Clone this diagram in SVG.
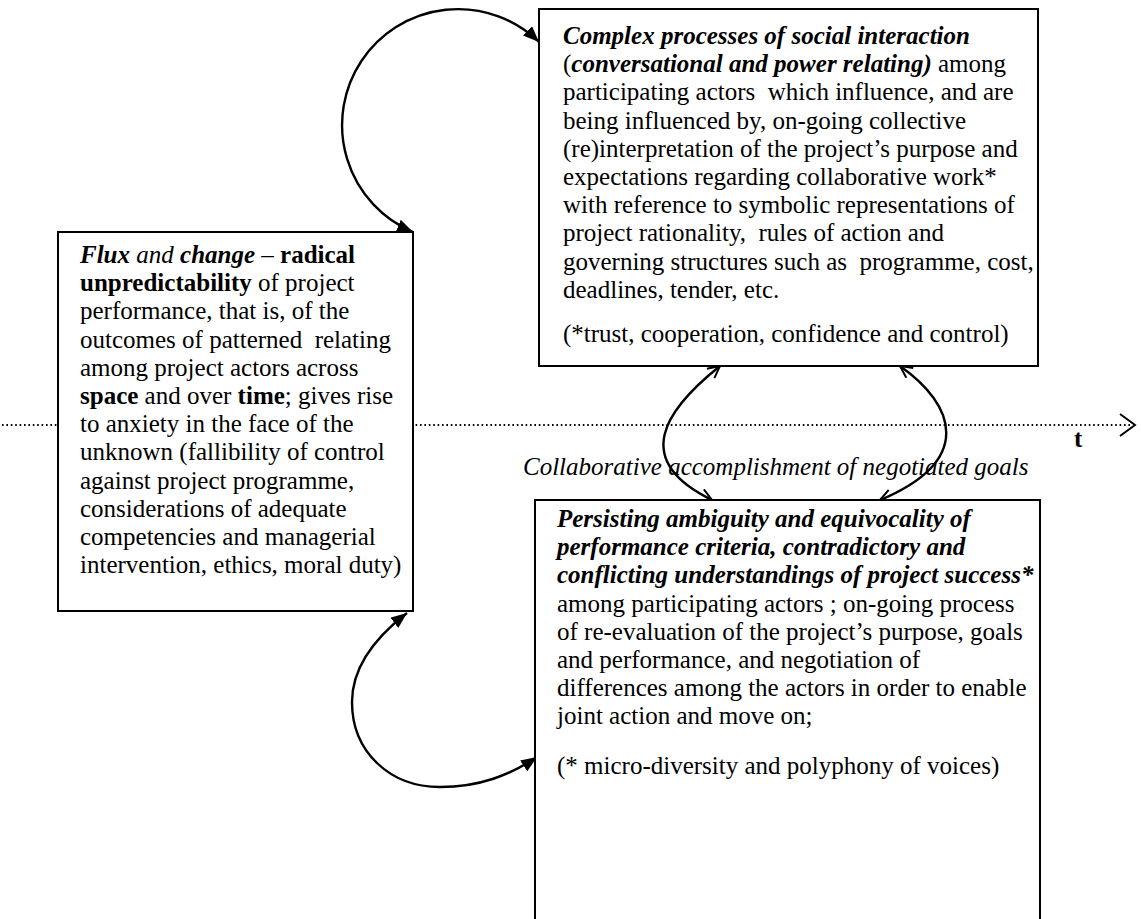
<svg xmlns="http://www.w3.org/2000/svg" width="1141" height="919" viewBox="0 0 1141 919">
  <defs>
    <style>
      text { font-family: "Liberation Serif", "Times New Roman", serif; font-size: 25px; fill: #000; white-space: pre; }
      .box { fill: #fff; stroke: #000; stroke-width: 2; }
      .bi { font-weight: bold; font-style: italic; }
      .b { font-weight: bold; }
      .i { font-style: italic; }
      .arc { fill: none; stroke: #000; stroke-width: 2.4; }
      .dot { fill: none; stroke: #000; stroke-width: 1.8; stroke-dasharray: 1.6 2.8; }
    </style>
    <marker id="solid" viewBox="0 0 16 13" refX="16" refY="6.5" markerWidth="16" markerHeight="13" markerUnits="userSpaceOnUse" orient="auto-start-reverse">
      <path d="M0,0 L16,6.5 L0,13 Z" fill="#000"/>
    </marker>
    <marker id="open" viewBox="0 0 14 14" refX="13" refY="7" markerWidth="14" markerHeight="14" markerUnits="userSpaceOnUse" orient="auto-start-reverse">
      <path d="M1,1 L13,7 L1,13" fill="none" stroke="#000" stroke-width="2"/>
    </marker>
  </defs>

  <rect width="1141" height="919" fill="#fff"/>

  <!-- time axis -->
  <g id="time-axis">
    <path class="dot" d="M2 425 H1132"/>
    <path d="M1120 414 L1135 425 L1120 436" fill="none" stroke="#000" stroke-width="2"/>
    <text x="1074" y="447" class="b">t</text>
    <text x="523" y="475" class="i">Collaborative accomplishment of negotiated goals</text>
  </g>

  <!-- connectors -->
  <g id="connectors">
    <path class="arc" d="M539 42 A116 116 0 1 0 413 232" marker-start="url(#solid)" marker-end="url(#solid)"/>
    <path class="arc" d="M407 613 C372 640 352 670 352 702 C352 752 390 787 440 787 C480 787 510 775 537 757" marker-start="url(#solid)" marker-end="url(#solid)"/>
    <path class="arc" d="M720 366 C665 410 630 460 712 500" marker-start="url(#open)" marker-end="url(#open)"/>
    <path class="arc" d="M900 366 C955 405 975 460 880 500" marker-start="url(#open)" marker-end="url(#open)"/>
  </g>

  <!-- social interaction -->
  <g id="node-interaction">
    <rect class="box" x="539" y="9" width="499" height="357"/>
    <text x="563" y="44" class="bi">Complex processes of social interaction</text>
    <text x="563" y="72.2">(<tspan class="bi">conversational and power relating)</tspan> among</text>
    <text x="563" y="100.4">participating actors  which influence, and are</text>
    <text x="563" y="128.6">being influenced by, on-going collective</text>
    <text x="563" y="156.8">(re)interpretation of the project’s purpose and</text>
    <text x="563" y="185">expectations regarding collaborative work*</text>
    <text x="563" y="213.2">with reference to symbolic representations of</text>
    <text x="563" y="241.4">project rationality,  rules of action and</text>
    <text x="563" y="269.6">governing structures such as  programme, cost,</text>
    <text x="563" y="297.8">deadlines, tender, etc.</text>
    <text x="563" y="342">(*trust, cooperation, confidence and control)</text>
  </g>

  <!-- flux and change -->
  <g id="node-flux">
    <rect class="box" x="58" y="232" width="355" height="379"/>
    <text x="80" y="263"><tspan class="bi">Flux</tspan><tspan class="i"> and </tspan><tspan class="bi">change</tspan> – <tspan class="b">radical</tspan></text>
    <text x="80" y="291.2"><tspan class="b">unpredictability</tspan> of project</text>
    <text x="80" y="319.4">performance, that is, of the</text>
    <text x="80" y="347.6">outcomes of patterned  relating</text>
    <text x="80" y="375.8">among project actors across</text>
    <text x="80" y="404"><tspan class="b">space</tspan> and over <tspan class="b">time</tspan>; gives rise</text>
    <text x="80" y="432.2">to anxiety in the face of the</text>
    <text x="80" y="460.4">unknown (fallibility of control</text>
    <text x="80" y="488.6">against project programme,</text>
    <text x="80" y="516.8">considerations of adequate</text>
    <text x="80" y="545">competencies and managerial</text>
    <text x="80" y="573.2">intervention, ethics, moral duty)</text>
  </g>

  <!-- ambiguity of performance -->
  <g id="node-ambiguity">
    <rect class="box" x="535" y="500" width="505" height="440"/>
    <text x="557" y="527" class="bi">Persisting ambiguity and equivocality of</text>
    <text x="557" y="555.2" class="bi">performance criteria, contradictory and</text>
    <text x="557" y="583.4" class="bi">conflicting understandings of project success*</text>
    <text x="557" y="611.6">among participating actors ; on-going process</text>
    <text x="557" y="639.8">of re-evaluation of the project’s purpose, goals</text>
    <text x="557" y="668">and performance, and negotiation of</text>
    <text x="557" y="696.2">differences among the actors in order to enable</text>
    <text x="557" y="724.4">joint action and move on;</text>
    <text x="557" y="774">(* micro-diversity and polyphony of voices)</text>
  </g>
</svg>
